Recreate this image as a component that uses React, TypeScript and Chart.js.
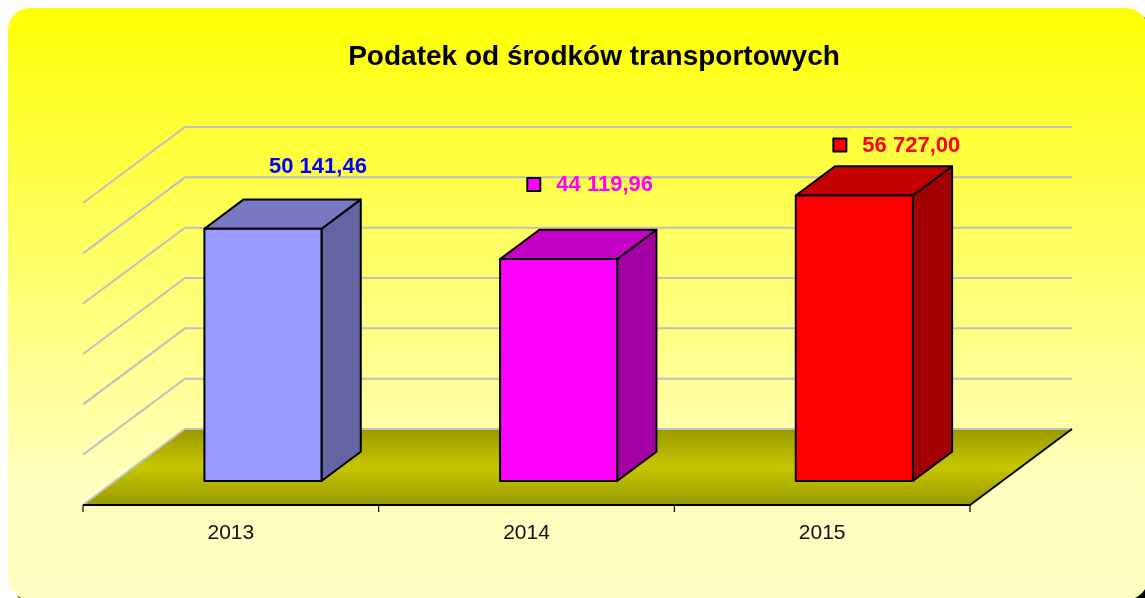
import React, { useEffect, useRef } from "react";
import { Chart, registerables } from "chart.js";

Chart.register(...registerables);

// ---- data ----
const chartTitle = "Podatek od środków transportowych";
const categories = ["2013", "2014", "2015"];
const values = [50141.46, 44119.96, 56727.0];
const yMin = 0;
const yMax = 60000;
const yStep = 10000;

// ---- styles ----
const frontColors = ["#9999FF", "#FF00FF", "#FF0000"];
const topColors = ["#7777C4", "#C400C4", "#C40000"];
const sideColors = ["#6464A2", "#A200A2", "#A20000"];
const labelColors = ["#0000FF", "#FF00FF", "#FF0000"];
const showLegendKey = [false, true, true];
const labelOffsets = [
  [55, -62],
  [46, -74],
  [57, -50],
];

function formatPL(v: number): string {
  const fixed = v.toFixed(2);
  const [intPart, dec] = fixed.split(".");
  const groups: string[] = [];
  for (let i = intPart.length; i > 0; i -= 3) {
    groups.unshift(intPart.substring(Math.max(0, i - 3), i));
  }
  return groups.join(" ") + "," + dec;
}

const DEPTH = { x: 102, y: -76 };
const BAR_FRONT = 0.315;
const BAR_BACK = 0.7;

function roundRect(ctx: CanvasRenderingContext2D, x: number, y: number, w: number, h: number, r: number) {
  ctx.beginPath();
  ctx.moveTo(x + r, y);
  ctx.lineTo(x + w - r, y);
  ctx.arcTo(x + w, y, x + w, y + r, r);
  ctx.lineTo(x + w, y + h - r);
  ctx.arcTo(x + w, y + h, x + w - r, y + h, r);
  ctx.lineTo(x + r, y + h);
  ctx.arcTo(x, y + h, x, y + h - r, r);
  ctx.lineTo(x, y + r);
  ctx.arcTo(x, y, x + r, y, r);
  ctx.closePath();
}

const scene3d = {
  id: "scene3d",
  beforeDraw(chart: any) {
    const ctx: CanvasRenderingContext2D = chart.ctx;
    const { left, right, bottom } = chart.chartArea;
    const yScale = chart.scales.y;
    ctx.save();
    // panel shadow + panel
    roundRect(ctx, 5, 5, 1140, 592, 22);
    ctx.fillStyle = "#000000";
    ctx.fill();
    const bg = ctx.createLinearGradient(0, 0, 0, 592);
    bg.addColorStop(0, "#FFFF00");
    bg.addColorStop(0.12, "#FFFF22");
    bg.addColorStop(0.8, "#FFFFBE");
    bg.addColorStop(1, "#FFFFC4");
    roundRect(ctx, 0, 0, 1140, 592, 22);
    ctx.fillStyle = bg;
    ctx.fill();

    // title
    ctx.fillStyle = "#000000";
    ctx.font = "bold 28px Arial, 'Liberation Sans', sans-serif";
    ctx.textAlign = "center";
    ctx.textBaseline = "middle";
    ctx.fillText(chartTitle, 586, 49);

    // floor
    const fb = bottom + DEPTH.y;
    const floorGrad = ctx.createLinearGradient(0, fb, 0, bottom);
    floorGrad.addColorStop(0, "#999900");
    floorGrad.addColorStop(0.5, "#C6C600");
    floorGrad.addColorStop(1, "#999900");
    ctx.beginPath();
    ctx.moveTo(left, bottom);
    ctx.lineTo(left + DEPTH.x, fb);
    ctx.lineTo(right + DEPTH.x, fb);
    ctx.lineTo(right, bottom);
    ctx.closePath();
    ctx.fillStyle = floorGrad;
    ctx.fill();

    // walls gridlines
    ctx.strokeStyle = "#C0C0C0";
    ctx.lineWidth = 2;
    yScale.ticks.forEach((t: any) => {
      const yp = yScale.getPixelForValue(t.value);
      ctx.beginPath();
      ctx.moveTo(left, yp);
      ctx.lineTo(left + DEPTH.x, yp + DEPTH.y);
      ctx.lineTo(right + DEPTH.x, yp + DEPTH.y);
      ctx.stroke();
    });

    // floor right edge + front edge
    ctx.strokeStyle = "#000000";
    ctx.lineWidth = 1.8;
    ctx.beginPath();
    ctx.moveTo(right + DEPTH.x, fb);
    ctx.lineTo(right, bottom);
    ctx.lineTo(left, bottom);
    ctx.stroke();
    ctx.restore();
  },
  afterDatasetsDraw(chart: any) {
    const ctx: CanvasRenderingContext2D = chart.ctx;
    const { bottom } = chart.chartArea;
    const xScale = chart.scales.x;
    const meta = chart.getDatasetMeta(0);
    ctx.save();
    const fx = DEPTH.x * BAR_FRONT, fy = DEPTH.y * BAR_FRONT;
    const bx = DEPTH.x * BAR_BACK, by = DEPTH.y * BAR_BACK;
    meta.data.forEach((el: any, i: number) => {
      const L = el.x - el.width / 2;
      const R = el.x + el.width / 2;
      const T = el.y;
      const B = el.base;
      ctx.lineWidth = 2;
      ctx.lineJoin = "round";
      ctx.strokeStyle = "#000000";
      // side
      ctx.beginPath();
      ctx.moveTo(R + fx, T + fy);
      ctx.lineTo(R + bx, T + by);
      ctx.lineTo(R + bx, B + by);
      ctx.lineTo(R + fx, B + fy);
      ctx.closePath();
      ctx.fillStyle = sideColors[i];
      ctx.fill();
      ctx.stroke();
      // top
      ctx.beginPath();
      ctx.moveTo(L + fx, T + fy);
      ctx.lineTo(L + bx, T + by);
      ctx.lineTo(R + bx, T + by);
      ctx.lineTo(R + fx, T + fy);
      ctx.closePath();
      ctx.fillStyle = topColors[i];
      ctx.fill();
      ctx.stroke();
      // front
      ctx.beginPath();
      ctx.rect(L + fx, T + fy, R - L, B - T);
      ctx.fillStyle = frontColors[i];
      ctx.fill();
      ctx.stroke();

      // data label
      const text = formatPL(values[i]);
      const cx = el.x + fx + labelOffsets[i][0];
      const cy = T + fy + labelOffsets[i][1];
      ctx.font = "bold 22px Arial, 'Liberation Sans', sans-serif";
      ctx.textAlign = "center";
      ctx.textBaseline = "middle";
      ctx.fillStyle = labelColors[i];
      ctx.fillText(text, cx, cy);
      if (showLegendKey[i]) {
        const tw = ctx.measureText(text).width;
        const kx = cx - tw / 2 - 16 - 13;
        ctx.fillStyle = frontColors[i];
        ctx.fillRect(kx, cy - 7, 13, 13);
        ctx.lineWidth = 2;
        ctx.strokeStyle = "#000000";
        ctx.strokeRect(kx, cy - 7, 13, 13);
      }
    });

    // category axis ticks and labels
    ctx.strokeStyle = "#000000";
    ctx.lineWidth = 1.2;
    for (let i = 0; i <= categories.length; i++) {
      const xp = xScale.getPixelForValue(i - 0.5);
      ctx.beginPath();
      ctx.moveTo(xp, bottom);
      ctx.lineTo(xp, bottom + 7);
      ctx.stroke();
    }
    ctx.fillStyle = "#111111";
    ctx.font = "21px Arial, 'Liberation Sans', sans-serif";
    ctx.textAlign = "center";
    ctx.textBaseline = "middle";
    xScale.ticks.forEach((t: any, i: number) => {
      ctx.fillText(String(categories[i]), xScale.getPixelForTick(i), bottom + 28);
    });
    ctx.restore();
  },
};

export default function App() {
  const canvasRef = useRef<HTMLCanvasElement | null>(null);
  useEffect(() => {
    if (!canvasRef.current) return;
    const chart = new Chart(canvasRef.current, {
      type: "bar",
      data: {
        labels: categories,
        datasets: [
          {
            data: values,
            backgroundColor: "rgba(0,0,0,0)",
            borderWidth: 0,
            barPercentage: 0.396,
            categoryPercentage: 1,
          },
        ],
      },
      options: {
        responsive: false,
        animation: false,
        devicePixelRatio: 1,
        layout: { padding: { left: 75, right: 183, top: 195, bottom: 103 } },
        plugins: {
          legend: { display: false },
          title: { display: false },
          tooltip: { enabled: false },
        },
        scales: {
          x: { display: false, offset: true },
          y: { display: false, min: yMin, max: yMax, ticks: { stepSize: yStep } },
        },
      },
      plugins: [scene3d],
    });
    return () => chart.destroy();
  }, []);

  return (
    <div style={{ position: "fixed", top: 8, left: 8, right: 0, bottom: 0, overflow: "hidden" }}>
      <canvas ref={canvasRef} width={1145} height={600} style={{ display: "block" }} />
    </div>
  );
}
